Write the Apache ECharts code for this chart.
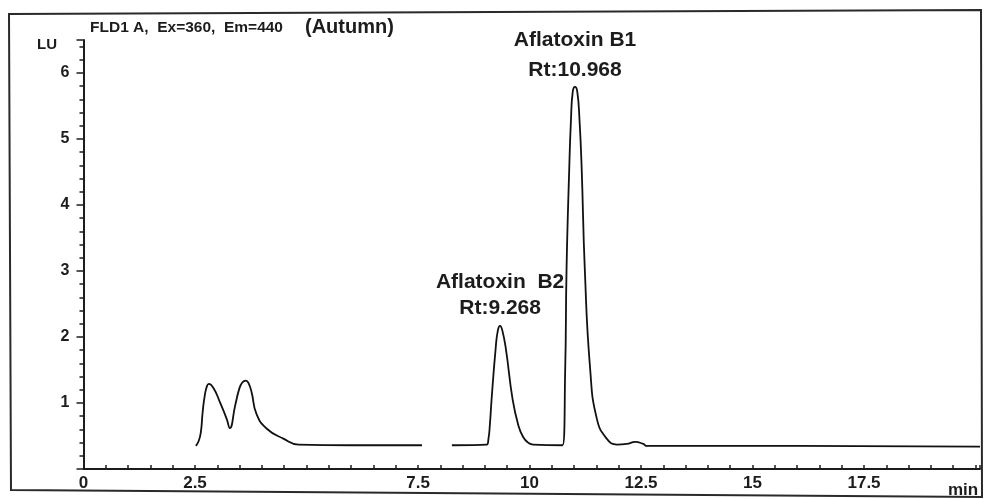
<!DOCTYPE html>
<html>
<head>
<meta charset="utf-8">
<script src="https://cdn.jsdelivr.net/npm/echarts@6/dist/echarts.min.js"></script>
<style>
html,body{margin:0;padding:0;background:#fff;}
#chart{width:984px;height:499px;}
</style>
</head>
<body>
<div id="chart"></div>
<script>
// Retention time (min) and fluorescence signal (LU); null = gap in trace
var rtMin = [
  2.52, 2.58, 2.63, 2.67, 2.72, 2.77, 2.81, 2.92, 3.06, 3.21, 3.28, 3.40, 3.49, 3.56, 3.64, 3.70, 3.77, 3.88, 4.11, 4.48, 4.82, 6.00, 7.59,
  7.90,
  8.26, 9.04, 9.08, 9.11, 9.15, 9.24, 9.29, 9.34, 9.39, 9.47, 9.62, 9.75, 9.86, 9.97, 10.08, 10.74,
  10.80, 10.83, 10.89, 10.93, 10.97, 11.02, 11.07, 11.12, 11.17, 11.24, 11.36, 11.51, 11.73, 11.96,
  12.18, 12.37, 12.55, 12.63, 16.00, 20.10
];
var signalLU = [
  0.35, 0.42, 0.55, 0.85, 1.12, 1.26, 1.29, 1.22, 1.01, 0.76, 0.62, 0.96, 1.21, 1.31, 1.34, 1.30, 1.16, 0.83, 0.61, 0.46, 0.37, 0.36, 0.36,
  null,
  0.36, 0.37, 0.46, 0.66, 1.06, 1.82, 2.10, 2.17, 2.10, 1.82, 1.06, 0.66, 0.48, 0.40, 0.37, 0.36,
  1.51, 3.02, 4.54, 5.30, 5.72, 5.79, 5.72, 5.30, 4.54, 3.02, 1.51, 0.76, 0.46, 0.37,
  0.38, 0.41, 0.38, 0.35, 0.35, 0.34
];
// Peak annotations
var peakNames = ['Aflatoxin  B2', 'Aflatoxin B1'];
var peakRtText = ['Rt:9.268', 'Rt:10.968'];
var peakApexRt = [9.34, 11.02];
var peakApexLU = [2.17, 5.79];
// Axis ticks
var yTickLabels = ['1', '2', '3', '4', '5', '6'];
var xTickLabels = ['0', '2.5', '7.5', '10', '12.5', '15', '17.5'];

var FONT = '"Liberation Sans", Arial, sans-serif';
var INK = '#1c1c1c';

var lineData = rtMin.map(function (x, i) { return [x, signalLU[i]]; });

var chart = echarts.init(document.getElementById('chart'), null, {renderer: 'canvas'});
chart.setOption({
  animation: false,
  backgroundColor: '#ffffff',
  grid: {left: 83.5, right: 4, top: 40, bottom: 29, containLabel: false},
  xAxis: {
    type: 'value',
    min: 0, max: 20.1, interval: 2.5,
    name: 'min', nameLocation: 'end', nameGap: -32,
    nameTextStyle: {fontFamily: FONT, fontWeight: 'bold', fontSize: 17, color: INK, verticalAlign: 'top', padding: [13, 0, 0, 0]},
    axisLine: {show: true, lineStyle: {color: INK, width: 2}},
    axisTick: {show: true, inside: true, length: 4, lineStyle: {color: INK, width: 1.5}},
    minorTick: {show: true, splitNumber: 5, length: 4, lineStyle: {color: INK, width: 1.5}},
    splitLine: {show: false},
    axisLabel: {
      margin: 6, fontFamily: FONT, fontWeight: 'bold', fontSize: 17, color: INK,
      showMaxLabel: false,
      formatter: function (v) { var s = String(v); return xTickLabels.indexOf(s) >= 0 ? s : ''; }
    }
  },
  yAxis: {
    type: 'value',
    min: 0, max: 6.5, interval: 1,
    axisLine: {show: true, lineStyle: {color: INK, width: 2}},
    axisTick: {show: true, inside: false, length: 7, lineStyle: {color: INK, width: 1.5}},
    minorTick: {show: true, splitNumber: 5, length: 4, lineStyle: {color: INK, width: 1.5}},
    splitLine: {show: false},
    axisLabel: {
      margin: 14, fontFamily: FONT, fontWeight: 'bold', fontSize: 16, color: INK,
      showMaxLabel: false,
      formatter: function (v) { var s = String(v); return yTickLabels.indexOf(s) >= 0 ? s : ''; }
    }
  },
  series: [{
    type: 'line',
    data: lineData,
    showSymbol: false,
    symbol: 'none',
    smooth: 0.5,
    connectNulls: false,
    lineStyle: {color: '#111', width: 1.8},
    markPoint: {
      symbol: 'circle', symbolSize: 0,
      silent: true,
      data: peakNames.map(function (n, i) {
        return {
          name: n,
          coord: [peakApexRt[i], peakApexLU[i]],
          label: {
            show: true, position: 'top', distance: i === 0 ? 5 : 2,
            align: 'center',
            lineHeight: i === 0 ? 26 : 30,
            fontFamily: FONT, fontWeight: 'bold', fontSize: 21, color: INK,
            formatter: n + '\n' + peakRtText[i]
          }
        };
      })
    }
  }],
  graphic: [
    {type: 'polygon', silent: true, z: -1,
     shape: {points: [[9, 14], [981, 10], [982, 497], [11, 490]]},
     style: {fill: 'none', stroke: '#2a2a2a', lineWidth: 2}},
    {type: 'text', left: 90, top: 20, silent: true,
     style: {text: 'FLD1 A,  Ex=360,  Em=440', font: 'bold 15.5px ' + FONT, fill: INK}},
    {type: 'text', left: 305, top: 17, silent: true,
     style: {text: '(Autumn)', font: 'bold 20px ' + FONT, fill: INK}},
    {type: 'text', left: 37, top: 37, silent: true,
     style: {text: 'LU', font: 'bold 15px ' + FONT, fill: INK}}
  ]
});
</script>
</body>
</html>
